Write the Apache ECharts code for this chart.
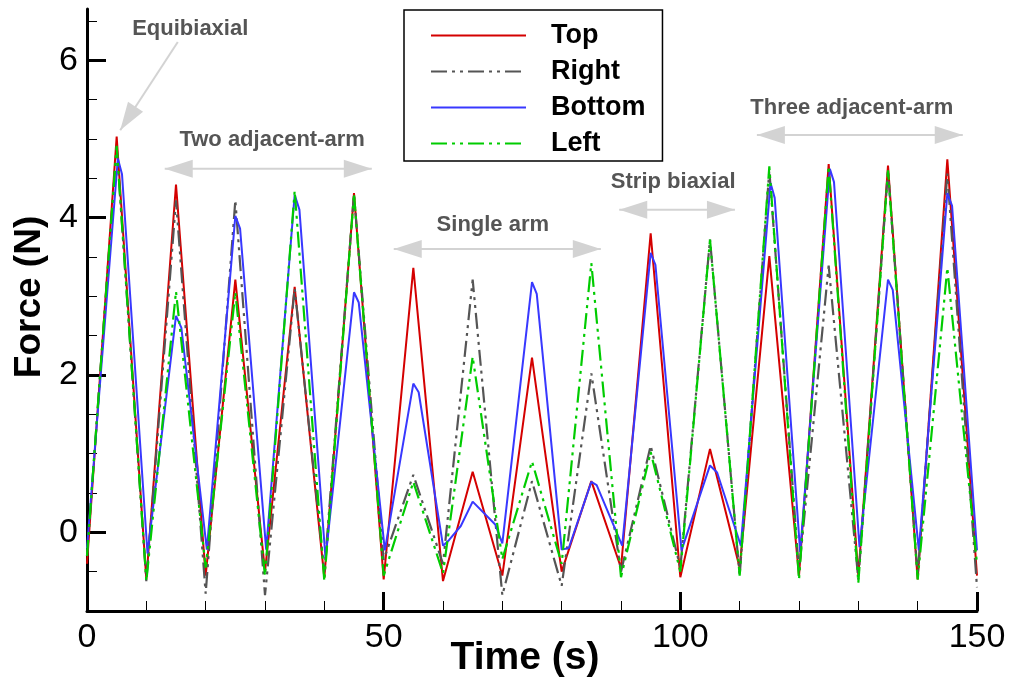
<!DOCTYPE html>
<html>
<head>
<meta charset="utf-8">
<script src="https://cdn.jsdelivr.net/npm/echarts@6/dist/echarts.min.js"></script>
<style>html,body{margin:0;padding:0;background:#fff}#c{width:1016px;height:677px}</style>
</head>
<body>
<div id="c"></div>
<script>
// ---- data ----
var timeMain = [0,5,10,15,20,25,30,35,40,45,50,55,60,65,70,75,80,85,90,95,100,105,110,115,120,125,130,135,140,145,150];
var forceTop = [-0.4,5.03,-0.6,4.42,-0.55,3.21,-0.5,3.12,-0.58,4.31,-0.6,3.36,-0.62,0.77,-0.55,2.22,-0.5,0.65,-0.45,3.80,-0.57,1.06,-0.45,3.51,-0.55,4.68,-0.55,4.66,-0.6,4.74,-0.55];
var forceRight = [-0.3,4.9,-0.62,4.22,-0.78,4.22,-0.8,3.1,-0.5,4.3,-0.35,0.73,-0.4,3.21,-0.8,0.65,-0.68,2.02,-0.5,1.1,-0.45,3.72,-0.55,4.6,-0.5,3.39,-0.6,4.6,-0.55,4.56,-0.7];
var forceLeft = [-0.3,4.91,-0.62,3.06,-0.45,3.05,-0.55,4.34,-0.62,4.3,-0.55,0.64,-0.52,2.23,-0.34,0.9,-0.4,3.42,-0.57,1.02,-0.5,3.72,-0.55,4.65,-0.6,4.65,-0.64,4.6,-0.6,3.36,-0.4];
var timeBottom = [0,5.2,5.9,10.2,15,15.9,20.2,25,25.8,30.2,35,35.8,40.2,45,45.8,50.2,55,55.9,60,61,63,65,68.8,70,75,75.8,80,81.2,85,85.9,90.2,95,95.8,100.2,105,106.2,110.2,115.2,115.9,120.2,125.2,125.9,130.2,135,135.8,140.2,145,145.8,150];
var forceBottom = [-0.2,4.75,4.55,-0.27,2.75,2.6,-0.22,4.02,3.86,-0.22,4.29,4.1,-0.33,3.05,2.92,-0.23,1.89,1.78,-0.17,-0.1,0.08,0.39,0.1,-0.14,3.18,3.03,-0.22,-0.2,0.64,0.6,-0.17,3.55,3.4,-0.23,0.85,0.76,-0.17,4.44,4.25,-0.25,4.62,4.45,-0.19,3.21,3.08,-0.23,4.31,4.15,-0.23];
var seriesNames = ['Top','Right','Bottom','Left'];
var xTickLabels = [0,50,100,150];
var yMajorTicks = [0,2,4,6];
var yMinorTicks = [-0.5,0.5,1,1.5,2.5,3,3.5,4.5,5,5.5,6.5];
// annotations in data coordinates
var annoTexts = [
  {text:'Equibiaxial', at:[17.4,6.40]},
  {text:'Two adjacent-arm', at:[31.2,4.99]},
  {text:'Single arm', at:[68.4,3.91]},
  {text:'Strip biaxial', at:[98.8,4.45]},
  {text:'Three adjacent-arm', at:[128.9,5.39]}
];
var annoArrows = [
  {from:[15.3,6.23], to:[5.6,5.11], both:false},
  {from:[13.1,4.62], to:[48.0,4.62], both:true},
  {from:[51.7,3.60], to:[86.6,3.60], both:true},
  {from:[89.7,4.10], to:[109.2,4.10], both:true},
  {from:[112.9,5.05], to:[147.6,5.05], both:true}
];

function zip(a,b){var r=[];for(var i=0;i<a.length;i++)r.push([a[i],b[i]]);return r;}

var FONT = '"Liberation Sans", Arial, Helvetica, sans-serif';
var dashDotDot = [16,5,3,5,3,5];
var chart = echarts.init(document.getElementById('c'), null, {renderer:'canvas'});
var option = {
  animation:false,
  backgroundColor:'#fff',
  textStyle:{fontFamily:FONT},
  grid:{left:87,right:39,top:9,bottom:66,containLabel:false,outerBoundsMode:'none'},
  legend:{
    orient:'vertical', left:404, top:10,
    borderColor:'#000', borderWidth:1.5, backgroundColor:'#fff',
    padding:[12,17,4,26],
    itemWidth:95, itemHeight:14, itemGap:9,
    itemStyle:{color:'rgba(0,0,0,0)',borderWidth:0,opacity:0},
    textStyle:{fontFamily:FONT,fontSize:27,fontWeight:'bold',color:'#000',padding:[0,0,0,20]},
    data:seriesNames
  },
  xAxis:{
    type:'value', min:0, max:150, interval:50,
    axisLine:{show:true,onZero:false,lineStyle:{color:'#000',width:3}},
    axisTick:{show:true,inside:true,length:19,lineStyle:{color:'#000',width:3}},
    minorTick:{show:true,splitNumber:5,length:10,lineStyle:{color:'#000',width:1}},
    axisLabel:{fontFamily:FONT,fontSize:34,color:'#000',margin:10,
      formatter:function(v){return xTickLabels.indexOf(v)>=0?String(v):'';}},
    splitLine:{show:false},
    name:'Time (s)', nameLocation:'middle', nameGap:28, nameMoveOverlap:false,
    nameTextStyle:{fontFamily:FONT,fontSize:39,fontWeight:'bold',color:'#000',padding:[0,14,0,0]}
  },
  yAxis:[{
    type:'value', min:-1, max:6.65, position:'left',
    axisLine:{show:true,onZero:false,lineStyle:{color:'#000',width:3}},
    axisTick:{show:true,inside:true,length:19,customValues:yMajorTicks,lineStyle:{color:'#000',width:3}},
    axisLabel:{fontFamily:FONT,fontSize:34,color:'#000',margin:9,customValues:yMajorTicks},
    splitLine:{show:false},
    name:'Force (N)', nameLocation:'middle', nameGap:36, nameRotate:90,
    nameTextStyle:{fontFamily:FONT,fontSize:37,fontWeight:'bold',color:'#000',padding:[0,0,0,26]}
  },{
    type:'value', min:-1, max:6.65, position:'left', offset:0,
    axisLine:{show:false,onZero:false},
    axisTick:{show:true,inside:true,length:10,customValues:yMinorTicks,lineStyle:{color:'#000',width:1}},
    axisLabel:{show:false},
    splitLine:{show:false}
  }],
  series:[
    {name:'Top',type:'line',symbol:'none',data:zip(timeMain,forceTop),lineStyle:{color:'#d40000',width:2},itemStyle:{color:'#d40000'}},
    {name:'Right',type:'line',symbol:'none',data:zip(timeMain,forceRight),lineStyle:{color:'#555555',width:2.2,type:dashDotDot},itemStyle:{color:'#555555'}},
    {name:'Bottom',type:'line',symbol:'none',data:zip(timeBottom,forceBottom),lineStyle:{color:'#3838ff',width:2},itemStyle:{color:'#3838ff'}},
    {name:'Left',type:'line',symbol:'none',data:zip(timeMain,forceLeft),lineStyle:{color:'#00cc00',width:2.2,type:dashDotDot},itemStyle:{color:'#00cc00'}}
  ]
};
chart.setOption(option);

function px(p){return chart.convertToPixel({gridIndex:0},p);}
function head(tip, from){
  var dx=tip[0]-from[0], dy=tip[1]-from[1], L=Math.sqrt(dx*dx+dy*dy);
  var ux=dx/L, uy=dy/L, len=28, hw=9;
  var bx=tip[0]-ux*len, by=tip[1]-uy*len;
  return {type:'polygon',shape:{points:[[tip[0],tip[1]],[bx-uy*hw,by+ux*hw],[bx+uy*hw,by-ux*hw]]},style:{fill:'#d3d3d3'},z:5};
}
var g=[];
annoArrows.forEach(function(a){
  var p1=px(a.from), p2=px(a.to);
  g.push({type:'line',shape:{x1:p1[0],y1:p1[1],x2:p2[0],y2:p2[1]},style:{stroke:'#d3d3d3',lineWidth:2},z:5});
  g.push(head(p2,p1));
  if(a.both) g.push(head(p1,p2));
});
annoTexts.forEach(function(a){
  var p=px(a.at);
  g.push({type:'text',x:p[0],y:p[1],style:{text:a.text,fill:'#555555',font:'bold 22px '+FONT,align:'center',verticalAlign:'middle'},z:6});
});
chart.setOption({graphic:g});
</script>
</body>
</html>
